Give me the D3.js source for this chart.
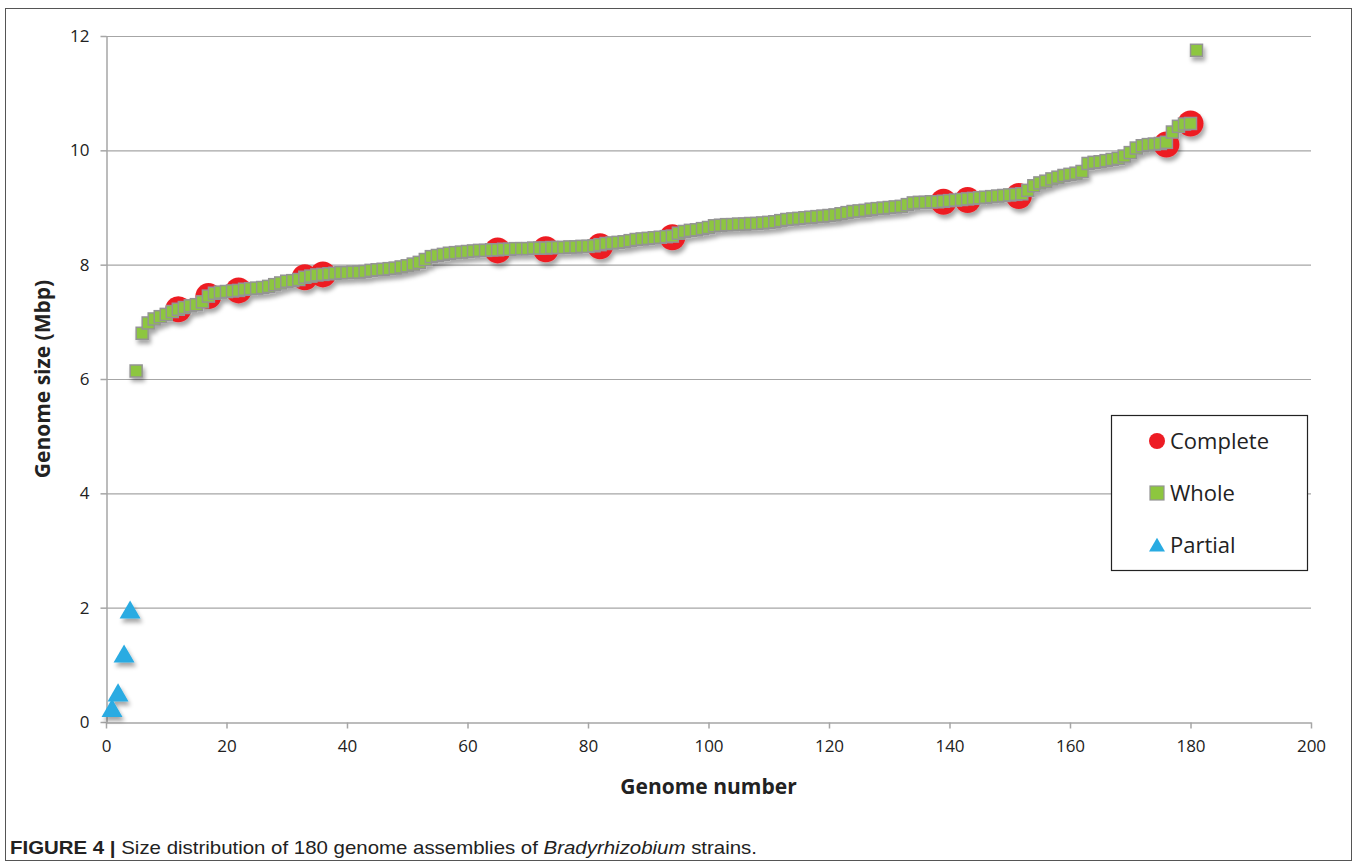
<!DOCTYPE html>
<html><head><meta charset="utf-8">
<script src="https://cdn.jsdelivr.net/npm/d3@7"></script>
<style>body{margin:0;background:#fff;}svg{display:block;}</style>
</head><body>
<svg id="c" width="1358" height="866"></svg>
<script>
// ---- data ----
const partialX = [1, 2, 3, 4];
const partialY = [0.23, 0.50, 1.18, 1.95];

const wholeStart = 5; // genome number of the first "Whole" value
const wholeY = [
 6.14,6.80,6.98,7.05,7.09,7.13,7.18,7.22,7.25,7.28,7.30,7.35,7.45,7.50,7.52,7.53,7.54,7.55,7.57,7.58,
 7.59,7.60,7.62,7.65,7.68,7.71,7.72,7.74,7.78,7.80,7.82,7.83,7.84,7.85,7.86,7.86,7.87,7.87,7.88,7.90,
 7.91,7.92,7.93,7.94,7.96,7.98,8.01,8.04,8.09,8.14,8.16,8.18,8.20,8.21,8.22,8.23,8.24,8.25,8.25,8.26,
 8.26,8.27,8.27,8.28,8.28,8.28,8.29,8.29,8.29,8.30,8.30,8.30,8.31,8.31,8.32,8.32,8.33,8.35,8.37,8.38,
 8.39,8.40,8.42,8.44,8.45,8.46,8.47,8.48,8.49,8.50,8.55,8.58,8.60,8.61,8.63,8.65,8.68,8.69,8.70,8.70,
 8.71,8.71,8.72,8.72,8.73,8.74,8.75,8.77,8.79,8.80,8.81,8.82,8.83,8.84,8.85,8.86,8.87,8.89,8.91,8.93,
 8.94,8.95,8.97,8.98,8.99,9.00,9.01,9.02,9.05,9.08,9.09,9.09,9.10,9.10,9.11,9.12,9.13,9.14,9.15,9.16,
 9.17,9.18,9.19,9.20,9.21,9.22,9.23,9.24,9.30,9.38,9.43,9.46,9.50,9.53,9.56,9.58,9.60,9.63,9.77,9.79,
 9.80,9.82,9.84,9.86,9.90,9.96,10.04,10.08,10.10,10.11,10.12,10.14,10.32,10.42,10.46,10.47,11.75
];

const completeX = [12, 17, 22, 33, 36, 65, 73, 82, 94, 139, 143, 151.5, 176, 180];
const completeY = [7.22, 7.45, 7.55, 7.78, 7.83, 8.25, 8.27, 8.32, 8.48, 9.10, 9.13, 9.20, 10.10, 10.47];

const xTicks = [0,20,40,60,80,100,120,140,160,180,200];
const yTicks = [0,2,4,6,8,10,12];
const legendLabels = ["Complete", "Whole", "Partial"];

// ---- chart ----
const svg = d3.select("#c");
const font = "'Open Sans', 'Liberation Sans', sans-serif";
const M = {left:106, right:1311, top:36, bottom:722};
const x = d3.scaleLinear().domain([0,200]).range([M.left, M.right]);
const y = d3.scaleLinear().domain([0,12]).range([M.bottom, M.top]);

// figure frame
svg.append("rect").attr("x",5.5).attr("y",8.5).attr("width",1346).attr("height",852)
  .attr("fill","none").attr("stroke","#555").attr("stroke-width",1);

const defs = svg.append("defs");
const f = defs.append("filter").attr("id","sh").attr("x","-50%").attr("y","-50%").attr("width","200%").attr("height","200%");
f.append("feDropShadow").attr("dx",2).attr("dy",4).attr("stdDeviation",2.2)
  .attr("flood-color","#000").attr("flood-opacity",0.35);

// gridlines
svg.append("g").selectAll("line").data(yTicks.filter(d=>d>0)).join("line")
  .attr("x1",M.left).attr("x2",M.right).attr("y1",d=>y(d)+0.5).attr("y2",d=>y(d)+0.5)
  .attr("stroke","#a6a6a6").attr("stroke-width",1.2);

// axes
const xAxis = svg.append("g").attr("transform",`translate(0,${M.bottom+0.5})`)
  .call(d3.axisBottom(x).tickValues(xTicks).tickSize(6).tickSizeOuter(0).tickPadding(8));
const yAxis = svg.append("g").attr("transform",`translate(${M.left+0.5},0)`)
  .call(d3.axisLeft(y).tickValues(yTicks).tickSize(6).tickSizeOuter(0).tickPadding(11));
[xAxis,yAxis].forEach(a=>{
  a.select(".domain").attr("stroke","#a6a6a6").attr("stroke-width",1.5);
  a.selectAll(".tick line").attr("stroke","#a6a6a6").attr("stroke-width",1.5);
  a.selectAll(".tick text").attr("font-family",font).attr("font-size",17).attr("fill","#222");
});
xAxis.selectAll(".tick text").attr("dy","0.9em");

// axis titles
svg.append("text").attr("x",(M.left+M.right)/2).attr("y",794).attr("text-anchor","middle")
  .attr("font-family",font).attr("font-weight","bold").attr("font-size",21).attr("fill","#222")
  .text("Genome number");
svg.append("text").attr("transform",`translate(50,${(M.top+M.bottom)/2}) rotate(-90)`)
  .attr("text-anchor","middle").attr("font-family",font).attr("font-weight","bold")
  .attr("font-size",21).attr("fill","#222").text("Genome size (Mbp)");

const marks = svg.append("g").attr("filter","url(#sh)");

// Complete (circles)
const compData = completeX.map((d,i)=>({x:d,y:completeY[i]}));
marks.append("g").selectAll("circle").data(compData).join("circle")
  .attr("cx",d=>x(d.x)).attr("cy",d=>y(d.y)).attr("r",13).attr("fill","#ed1c24");

// Whole (squares)
const wholeData = wholeY.map((v,i)=>({x:wholeStart+i,y:v}));
const sq = 12;
marks.append("g").selectAll("rect").data(wholeData).join("rect")
  .attr("x",d=>x(d.x)-sq/2).attr("y",d=>y(d.y)-sq/2).attr("width",sq).attr("height",sq)
  .attr("fill","#8dc63f").attr("stroke","#949494").attr("stroke-width",1.5);

// Partial (triangles)
const partData = partialX.map((d,i)=>({x:d,y:partialY[i]}));
const tri = d3.symbol().type(d3.symbolTriangle).size(190);
marks.append("g").selectAll("path").data(partData).join("path")
  .attr("transform",d=>`translate(${x(d.x)},${y(d.y)+2})`).attr("d",tri).attr("fill","#29abe2");

// legend
const lg = svg.append("g").attr("transform","translate(1111,415)");
lg.append("rect").attr("x",0.5).attr("y",0.5).attr("width",196).attr("height",155)
  .attr("fill","#fff").attr("stroke","#222").attr("stroke-width",1.2);
const ly = [26, 78, 130];
lg.append("circle").attr("cx",46).attr("cy",ly[0]).attr("r",8).attr("fill","#ed1c24");
lg.append("rect").attr("x",39).attr("y",ly[1]-7).attr("width",14).attr("height",14)
  .attr("fill","#8dc63f").attr("stroke","#949494").attr("stroke-width",1.2);
lg.append("path").attr("transform",`translate(46,${ly[2]+2})`)
  .attr("d",d3.symbol().type(d3.symbolTriangle).size(110)).attr("fill","#29abe2");
lg.selectAll("text.l").data(legendLabels).join("text").attr("class","l")
  .attr("x",59).attr("y",(d,i)=>ly[i]).attr("dy","0.35em")
  .attr("font-family",font).attr("font-size",22).attr("fill","#222").text(d=>d);

// caption
const cap = svg.append("text").attr("x",10).attr("y",854)
  .attr("font-family","'Liberation Sans',Arial,sans-serif")
  .attr("font-size",19).attr("fill","#222")
  .attr("textLength",747).attr("lengthAdjust","spacingAndGlyphs");
cap.append("tspan").attr("font-weight","bold").text("FIGURE 4 | ");
cap.append("tspan").text("Size distribution of 180 genome assemblies of ");
cap.append("tspan").attr("font-style","italic").text("Bradyrhizobium");
cap.append("tspan").text(" strains.");
</script>
</body></html>
